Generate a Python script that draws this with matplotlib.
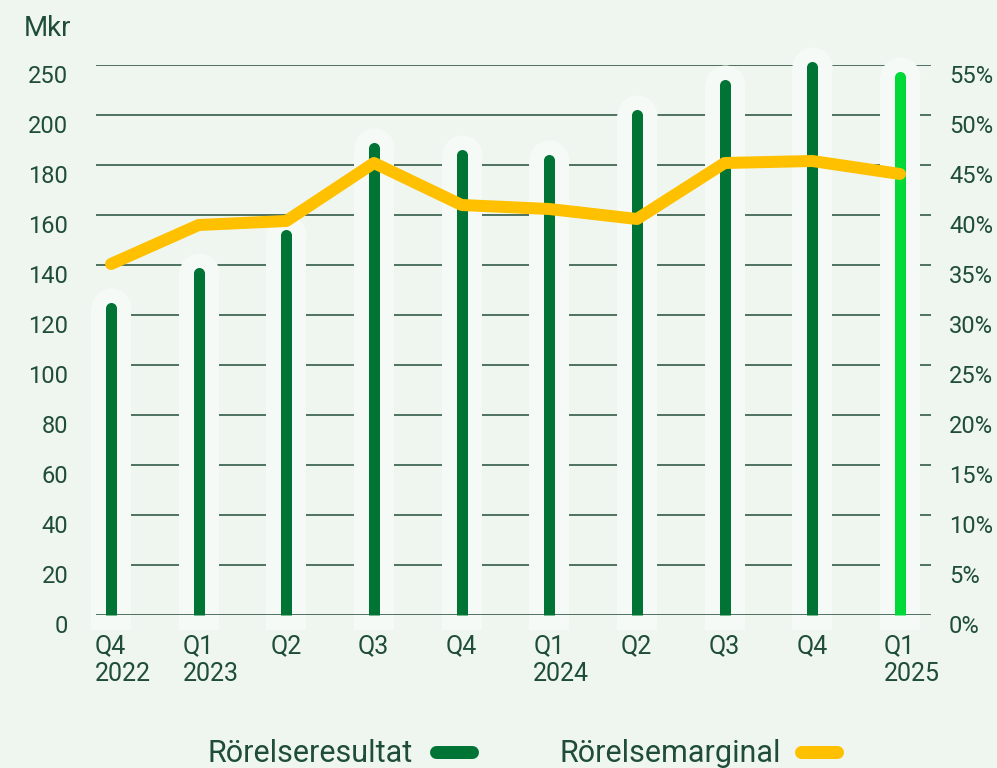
import matplotlib
matplotlib.use("Agg")
import matplotlib.pyplot as plt
import matplotlib.transforms as mtransforms
from matplotlib.lines import Line2D
import numpy as np

plt.rcParams['font.family'] = ['Roboto', 'DejaVu Sans']

# data
quarters = ["Q4\n2022", "Q1\n2023", "Q2", "Q3", "Q4", "Q1\n2024", "Q2", "Q3", "Q4", "Q1\n2025"]
resultat = [123, 137, 152, 187, 184, 182, 200, 230, 248, 238]   # Mkr
marginal = [35.1, 39.0, 39.4, 45.2, 41.0, 40.6, 39.6, 45.2, 45.4, 44.1]  # %
left_ticks = [0, 20, 40, 60, 80, 100, 120, 140, 160, 180, 200, 250]
right_ticks = [0, 5, 10, 15, 20, 25, 30, 35, 40, 45, 50, 55]

bg = "#eff6ef"
halo_c = "#f6faf6"
grid_c = "#1e4a35"
text_c = "#1f4d38"
bar_c = "#007434"
bar_last = "#00d937"
line_c = "#ffc000"

# left axis labels are evenly spaced: 20 per step up to 200, then one step to 250
def fwd(v):
    v = np.asarray(v, dtype=float)
    return np.where(v <= 200, v / 20.0, 10 + (v - 200) / 50.0)

def inv(p):
    p = np.asarray(p, dtype=float)
    return np.where(p <= 10, p * 20.0, 200 + (p - 10) * 50.0)

fig = plt.figure(figsize=(9.97, 7.68), dpi=100, facecolor=bg)
ax = fig.add_axes([96/997, 1-615/768, (931-96)/997, 550/768])
ax.set_facecolor(bg)
ax.set_yscale('function', functions=(fwd, inv))
ax.set_ylim(0, 250)
ax.set_xlim(-0.171, 9.354)

x = np.arange(len(quarters))
px = 72 / 100  # points per pixel

# gridlines
for t in left_ticks[1:]:
    ax.axhline(t, color=grid_c, lw=1.5*px, zorder=0.5)

# halos behind bars
for i, v in enumerate(resultat):
    ax.plot([x[i], x[i]], [-6, v], color=halo_c, lw=40*px, solid_capstyle='butt',
            marker='o', markevery=[1], markersize=40*px, markeredgewidth=0,
            clip_on=False, zorder=1)

ax.axhline(0, color=grid_c, lw=1.5*px, zorder=2)

# bars
for i, v in enumerate(resultat):
    c = bar_last if i == len(resultat) - 1 else bar_c
    ax.plot([x[i], x[i]], [0, v], color=c, lw=11*px, solid_capstyle='butt',
            marker='o', markevery=[1], markersize=11*px, markeredgewidth=0,
            clip_on=False, zorder=3)

ax2 = ax.twinx()
ax2.set_ylim(0, 55)
ax2.plot(x, marginal, color=line_c, lw=12*px, solid_capstyle='round',
         solid_joinstyle='round', zorder=5, clip_on=False)

for a in (ax, ax2):
    for s in a.spines.values():
        s.set_visible(False)

ax.set_yticks(left_ticks)
ax.set_yticklabels([str(t) for t in left_ticks])
ax.yaxis.set_minor_locator(plt.NullLocator())
ax.tick_params(axis='y', length=0, pad=20, labelsize=17, labelcolor=text_c)
ax2.set_yticks(right_ticks)
ax2.set_yticklabels([f"{t}%" for t in right_ticks])
ax2.tick_params(axis='y', length=0, pad=13, labelsize=17, labelcolor=text_c)

ax.set_xticks(x)
ax.set_xticklabels(quarters)
ax.tick_params(axis='x', length=0, pad=14, labelsize=18, labelcolor=text_c)

down = mtransforms.ScaledTranslation(0, -9/100, fig.dpi_scale_trans)
for lbl in ax.get_yticklabels() + ax2.get_yticklabels():
    lbl.set_transform(lbl.get_transform() + down)
shift = mtransforms.ScaledTranslation(-16/100, 0, fig.dpi_scale_trans)
for lbl in ax.get_xticklabels():
    lbl.set_horizontalalignment('left')
    lbl.set_transform(lbl.get_transform() + shift)

fig.text(24/997, 1-29/768, "Mkr", fontsize=20, color=text_c, ha='left', va='center')

# legend
fig.text(207/997, 1-762/768, "Rörelseresultat", fontsize=22, color=text_c, ha='left', va='baseline')
fig.text(559/997, 1-762/768, "Rörelsemarginal", fontsize=22, color=text_c, ha='left', va='baseline')
for x0, x1, c in [(436, 472, bar_c), (801, 837, line_c)]:
    fig.add_artist(Line2D([x0/997, x1/997], [1-752/768, 1-752/768], color=c,
                          lw=13*px, solid_capstyle='round', transform=fig.transFigure))

fig.savefig("out.png", dpi=100, facecolor=bg)
